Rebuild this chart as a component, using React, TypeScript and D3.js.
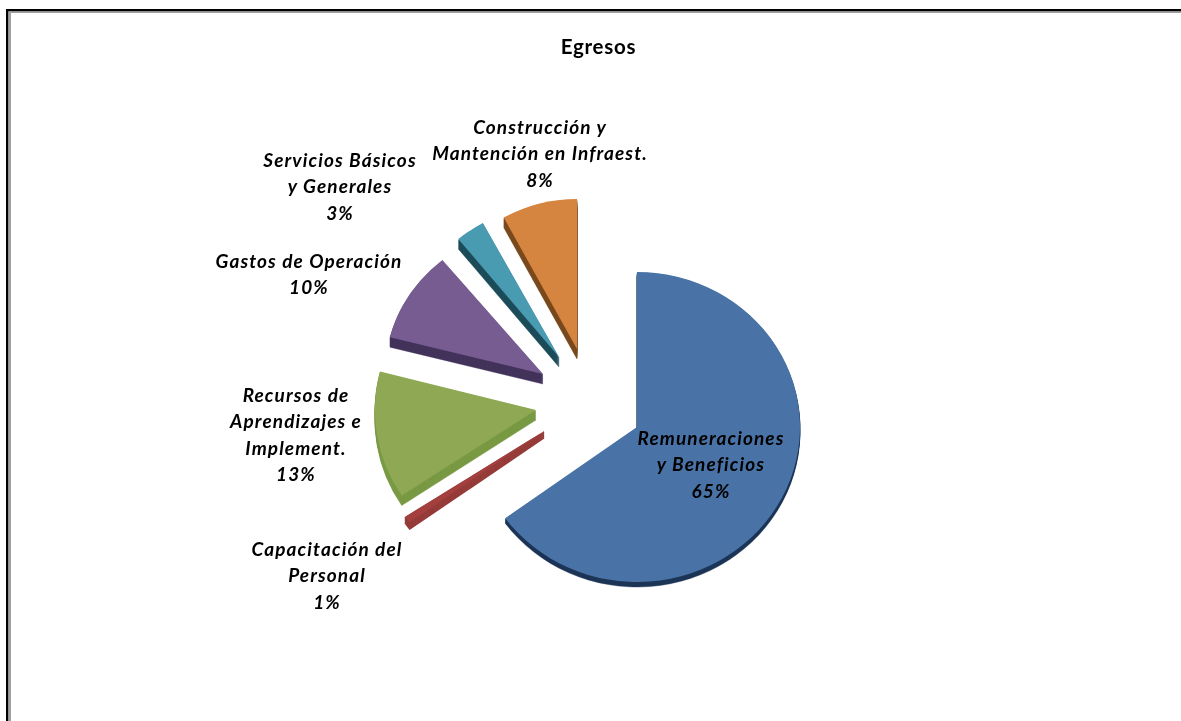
import React from "react";
import * as d3 from "d3";

// Data
const titleText = "Egresos";
const categories = [
  "Remuneraciones y Beneficios",
  "Capacitación del Personal",
  "Recursos de Aprendizajes e Implement.",
  "Gastos de Operación",
  "Servicios Básicos y Generales",
  "Construcción y Mantención en Infraest.",
];
const values = [65, 0.7, 13.3, 10, 3, 8];
const labelLines = [
  ["Remuneraciones", "y Beneficios", "65%"],
  ["Capacitación del", "Personal", "1%"],
  ["Recursos de", "Aprendizajes e", "Implement.", "13%"],
  ["Gastos de Operación", "10%"],
  ["Servicios Básicos", "y Generales", "3%"],
  ["Construcción y", "Mantención en Infraest.", "8%"],
];

// Appearance and layout
const topColors = ["#4a73a7", "#a3403e", "#8ea853", "#775c92", "#4a9bb2", "#d6853f"];
const sideColors = ["#1c3557", "#963b3a", "#7a9a45", "#44345c", "#1f4e5c", "#7a4a1f"];
const apexX = [637, 544, 536, 543, 559, 577];
const apexY = [427, 431, 410, 374, 357, 349];
const radiusX = [163, 166, 161, 158, 158, 152];
const radiusY = [155, 155, 155, 148, 153, 150];
const depths = [5, 7, 10, 10, 10, 10];
const sideStrokes = [0.4, 1.4, 0.4, 0.4, 0.4, 0.4];
const labelX = [711, 327, 296, 309, 340, 540];
const labelY = [445, 556, 402, 268, 167, 134];
const lineStep = 26.4;
const FONT = "Lato, Carlito, 'Open Sans', sans-serif";

export default function App() {
  const pie = d3.pie<number>().sort(null).value((d) => d);
  const arcs = pie(values);
  const arc = d3.arc<d3.PieArcDatum<number>>().innerRadius(0).outerRadius(1);
  return (
    <svg
      width={1181}
      height={721}
      viewBox="0 0 1181 721"
      style={{ position: "absolute", left: 0, top: 0, background: "#fff" }}
    >
      <defs>
        <filter id="soft" x="-5%" y="-5%" width="110%" height="110%">
          <feGaussianBlur stdDeviation={0.45} />
        </filter>
      </defs>
      <rect x={0} y={0} width={1181} height={721} fill="#fff" />
      <rect x={6} y={9} width={1175} height={2.5} fill="#000" />
      <rect x={6} y={9} width={2.5} height={712} fill="#000" />
      <rect x={8.5} y={11.5} width={1172.5} height={1.5} fill="#a0a0a0" />
      <rect x={8.5} y={11.5} width={2.5} height={709.5} fill="#a0a0a0" />

      <g filter="url(#soft)">
        <text
          x={598.5}
          y={54}
          textAnchor="middle"
          fontFamily={FONT}
          fontWeight={700}
          fontSize={20.5}
          letterSpacing={0.7}
          fill="#000"
        >
          {titleText}
        </text>

        {arcs.map((a, i) => (
          <g key={categories[i]}>
            {d3.range(depths[i], 0, -1).map((k) => (
              <path
                key={k}
                d={arc(a) ?? ""}
                fill={sideColors[i]}
                stroke={sideColors[i]}
                strokeWidth={sideStrokes[i]}
                vectorEffect="non-scaling-stroke"
                transform={`translate(${apexX[i]},${apexY[i] + k}) scale(${radiusX[i]},${radiusY[i]})`}
              />
            ))}
            <path
              d={arc(a) ?? ""}
              fill={topColors[i]}
              transform={`translate(${apexX[i]},${apexY[i]}) scale(${radiusX[i]},${radiusY[i]})`}
            />
          </g>
        ))}

        {labelLines.map((lines, i) => (
          <text
            key={categories[i]}
            textAnchor="middle"
            fontFamily={FONT}
            fontWeight={700}
            fontStyle="italic"
            fontSize={19}
            letterSpacing={1.1}
            fill="#000"
          >
            {lines.map((line, j) => (
              <tspan key={j} x={labelX[i]} y={labelY[i] + j * lineStep}>
                {line}
              </tspan>
            ))}
          </text>
        ))}
      </g>
    </svg>
  );
}
